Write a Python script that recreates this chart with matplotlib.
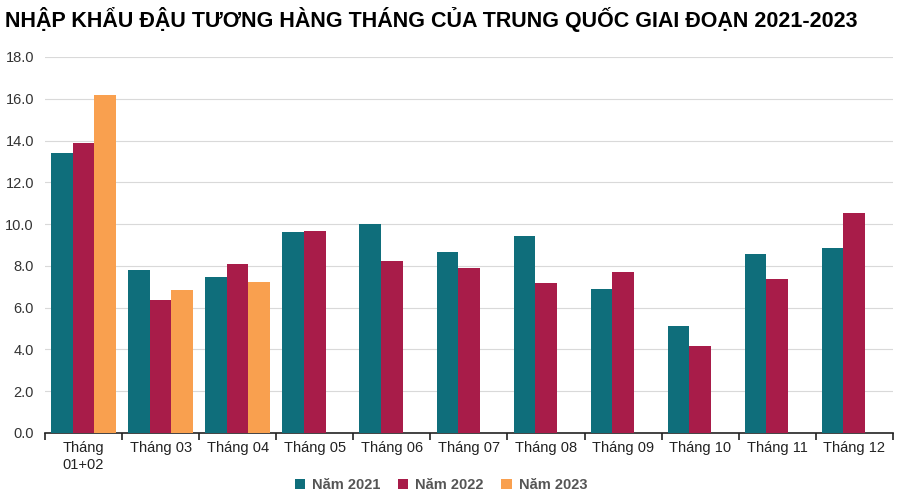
import matplotlib
matplotlib.use("Agg")
import matplotlib.pyplot as plt
import numpy as np

categories = ["Tháng\n01+02", "Tháng 03", "Tháng 04", "Tháng 05", "Tháng 06", "Tháng 07",
              "Tháng 08", "Tháng 09", "Tháng 10", "Tháng 11", "Tháng 12"]
y2021 = [13.4, 7.8, 7.45, 9.6, 10.0, 8.65, 9.45, 6.88, 5.12, 8.55, 8.88]
y2022 = [13.9, 6.35, 8.08, 9.65, 8.22, 7.88, 7.18, 7.72, 4.15, 7.35, 10.55]
y2023 = [16.2, 6.85, 7.22]
series_names = ["Năm 2021", "Năm 2022", "Năm 2023"]
colors = ["#0F6E7B", "#A81C49", "#F9A04F"]

plt.rcParams["font.family"] = ["Liberation Sans", "DejaVu Sans"]

fig = plt.figure(figsize=(9, 5), dpi=100)
ax = fig.add_axes([0.05, 0.134, 0.942, 0.752])

x = np.arange(len(categories))
w = 0.28
ax.bar(x - w, y2021, w, color=colors[0], label=series_names[0], zorder=3)
ax.bar(x, y2022, w, color=colors[1], label=series_names[1], zorder=3)
ax.bar(x[:len(y2023)] + w, y2023, w, color=colors[2], label=series_names[2], zorder=3)

ax.set_xlim(-0.5, len(categories) - 0.5)
ax.set_ylim(0, 18)
ax.set_yticks(np.arange(0, 18.1, 2))
ax.set_yticklabels([f"{v:.1f}" for v in np.arange(0, 18.1, 2)], fontsize=10.5, color="#333333")
ax.yaxis.grid(True, color="#d9d9d9", linewidth=0.8, zorder=0)
ax.tick_params(axis="y", length=0, pad=8)

ax.set_xticks(x)
ax.set_xticklabels(categories, fontsize=10.5, color="#222222")
ax.set_xticks(np.arange(-0.5, len(categories), 1), minor=True)
ax.tick_params(axis="x", which="major", length=0, pad=6)
ax.tick_params(axis="x", which="minor", length=5, width=1.2, color="#222222", direction="out")

for s in ["top", "right", "left"]:
    ax.spines[s].set_visible(False)
ax.spines["bottom"].set_color("#222222")
ax.spines["bottom"].set_linewidth(1.2)

fig.text(0.006, 0.962, "NHẬP KHẨU ĐẬU TƯƠNG HÀNG THÁNG CỦA TRUNG QUỐC GIAI ĐOẠN 2021-2023",
         fontsize=15.5, fontweight="bold", ha="left", va="center",
         family=["Liberation Sans Narrow", "Liberation Sans", "DejaVu Sans"])

leg = fig.legend(loc="center", bbox_to_anchor=(0.49, 0.03), ncol=3, frameon=False,
                 handlelength=0.7, handleheight=0.7, handletextpad=0.5, columnspacing=1.2,
                 prop={"size": 10.5, "weight": "bold"})
for t in leg.get_texts():
    t.set_color("#555555")

fig.savefig("out.png", dpi=100)
